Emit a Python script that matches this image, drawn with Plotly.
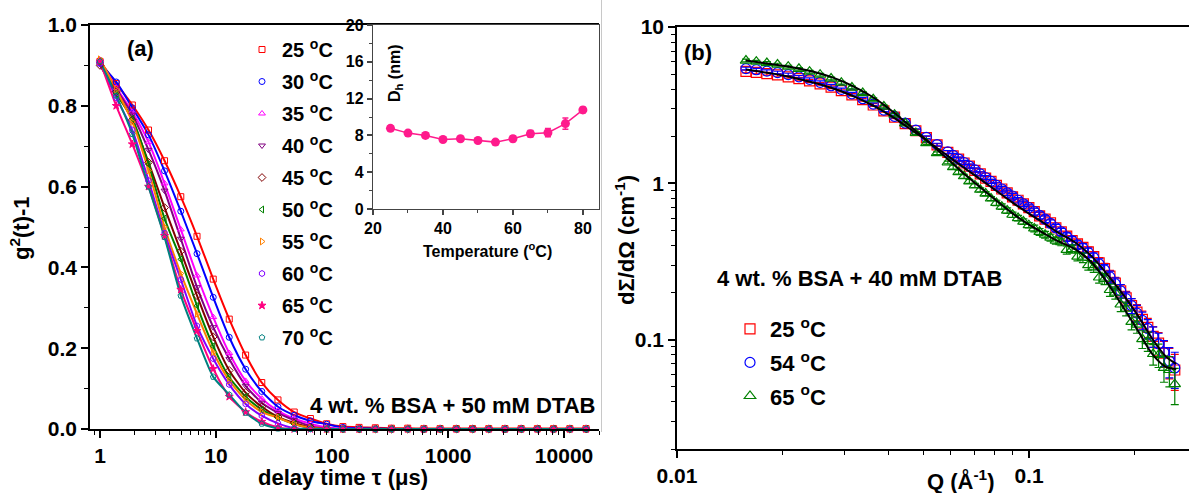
import math
import plotly.graph_objects as go

W, H = 1189, 493
def px(x): return x / W
def py(y): return 1 - y / H

FONT = "Liberation Sans, Arial, sans-serif"

# ---------------- Panel (a): DLS correlation functions ----------------
tau_us = [1.0, 1.38, 1.9, 2.62, 3.6, 4.97, 6.86, 9.46, 13.0, 18.0, 24.8, 34.2, 47.2, 65.1,
          89.8, 124, 171, 236, 325, 449, 619, 854, 1178, 1626, 2243, 3094, 4268, 5888,
          8123, 11206, 15460]

temps_a = ["25", "30", "35", "40", "45", "50", "55", "60", "65", "70"]

g_25 = [0.910, 0.855, 0.802, 0.740, 0.664, 0.575, 0.477, 0.371, 0.272, 0.183, 0.115, 0.072, 0.042, 0.026,
        0.013, 0.006, 0.004, 0.003, 0.002, 0.002, 0.001, 0.001, 0.001, 0.001, 0.001, 0.001, 0.001, 0.001,
        0.001, 0.001, 0.001]
g_30 = [0.905, 0.859, 0.795, 0.728, 0.639, 0.539, 0.434, 0.326, 0.227, 0.148, 0.093, 0.055, 0.034, 0.020,
        0.012, 0.004, 0.002, 0.001, 0.0, 0.0, 0.0, 0.0, 0.0, 0.0, 0.0, 0.0, 0.0, 0.0,
        0.0, 0.0, 0.0]
g_35 = [0.912, 0.845, 0.785, 0.710, 0.608, 0.494, 0.380, 0.277, 0.188, 0.119, 0.075, 0.045, 0.026, 0.013,
        0.004, 0.001, 0.0, 0.0, 0.0, 0.0, 0.0, 0.0, 0.0, 0.0, 0.0, 0.0, 0.0, 0.0,
        0.0, 0.0, 0.0]
g_40 = [0.905, 0.842, 0.778, 0.691, 0.590, 0.471, 0.351, 0.252, 0.173, 0.107, 0.065, 0.040, 0.022, 0.007,
        0.001, 0.0, 0.0, 0.0, 0.0, 0.0, 0.0, 0.0, 0.0, 0.0, 0.0, 0.0, 0.0, 0.0,
        0.0, 0.0, 0.0]
g_45 = [0.900, 0.835, 0.765, 0.660, 0.548, 0.440, 0.330, 0.228, 0.145, 0.090, 0.055, 0.030, 0.015, 0.004,
        0.0, 0.0, 0.0, 0.0, 0.0, 0.0, 0.0, 0.0, 0.0, 0.0, 0.0, 0.0, 0.0, 0.0,
        0.0, 0.0, 0.0]
g_50 = [0.910, 0.830, 0.768, 0.655, 0.521, 0.420, 0.305, 0.205, 0.128, 0.080, 0.048, 0.028, 0.012, 0.002,
        0.0, 0.0, 0.0, 0.0, 0.0, 0.0, 0.0, 0.0, 0.0, 0.0, 0.0, 0.0, 0.0, 0.0,
        0.0, 0.0, 0.0]
g_55 = [0.915, 0.840, 0.760, 0.640, 0.500, 0.385, 0.285, 0.190, 0.120, 0.072, 0.042, 0.028, 0.012, 0.003,
        0.0, 0.0, 0.0, 0.0, 0.0, 0.0, 0.0, 0.0, 0.0, 0.0, 0.0, 0.0, 0.0, 0.0,
        0.0, 0.0, 0.0]
g_60 = [0.905, 0.820, 0.740, 0.615, 0.485, 0.370, 0.255, 0.174, 0.110, 0.062, 0.033, 0.014, 0.002, 0.0,
        0.0, 0.0, 0.0, 0.0, 0.0, 0.0, 0.0, 0.0, 0.0, 0.0, 0.0, 0.0, 0.0, 0.0,
        0.0, 0.0, 0.0]
g_65 = [0.910, 0.800, 0.705, 0.600, 0.478, 0.345, 0.243, 0.149, 0.080, 0.042, 0.018, 0.004, 0.0, 0.0,
        0.0, 0.0, 0.0, 0.0, 0.0, 0.0, 0.0, 0.0, 0.0, 0.0, 0.0, 0.0, 0.0, 0.0,
        0.0, 0.0, 0.0]
g_70 = [0.910, 0.825, 0.730, 0.600, 0.475, 0.330, 0.224, 0.129, 0.085, 0.040, 0.013, 0.001, 0.0, 0.0,
        0.0, 0.0, 0.0, 0.0, 0.0, 0.0, 0.0, 0.0, 0.0, 0.0, 0.0, 0.0, 0.0, 0.0,
        0.0, 0.0, 0.0]

series_a = [g_25, g_30, g_35, g_40, g_45, g_50, g_55, g_60, g_65, g_70]
colors_a = ["#ff0000", "#0000ff", "#ff00ff", "#800080", "#800000",
            "#008000", "#ff8000", "#8000ff", "#ff0080", "#008080"]
symbols_a = ["square-open", "circle-open", "triangle-up-open", "triangle-down-open",
             "diamond-open", "triangle-left-open", "triangle-right-open",
             "hexagon-open", "star", "pentagon-open"]

# ---------------- Inset: hydrodynamic diameter ----------------
temp_inset = [25, 30, 35, 40, 45, 50, 55, 60, 65, 70, 75, 80]
dh_nm = [8.77, 8.25, 8.0, 7.56, 7.63, 7.45, 7.27, 7.63, 8.18, 8.29, 9.28, 10.77]
dh_err = [0.25, 0.25, 0.25, 0.25, 0.25, 0.25, 0.25, 0.3, 0.35, 0.45, 0.6, 0.3]

# ---------------- Panel (b): SANS ----------------
q_inv_A = [0.0157, 0.0168, 0.0180, 0.0193, 0.0207, 0.0222, 0.0238, 0.0255, 0.0274, 0.0293,
           0.0314, 0.0337, 0.0361, 0.0387, 0.0415, 0.0445, 0.0477, 0.0511, 0.0548, 0.0588,
           0.0609, 0.0631, 0.0654, 0.0677, 0.0702, 0.0727, 0.0753, 0.0780, 0.0808, 0.0837,
           0.0867, 0.0898, 0.0931, 0.0964, 0.0999, 0.1035, 0.1072, 0.1111, 0.1151, 0.1192,
           0.1235, 0.1280, 0.1326, 0.1373, 0.1423, 0.1474, 0.1527, 0.1582, 0.1639, 0.1698,
           0.1759, 0.1822, 0.1888, 0.1956, 0.2026, 0.2099, 0.2175, 0.2253, 0.2334, 0.2418,
           0.2505, 0.2595]
i_25 = [5.20, 5.12, 5.03, 4.94, 4.80, 4.67, 4.52, 4.33, 4.12, 3.92,
        3.68, 3.43, 3.17, 2.91, 2.65, 2.41, 2.17, 1.96, 1.76, 1.58,
        1.50, 1.43, 1.35, 1.29, 1.21, 1.15, 1.08, 1.03, 0.97, 0.92,
        0.87, 0.82, 0.78, 0.74, 0.70, 0.66, 0.62, 0.59, 0.56, 0.52,
        0.49, 0.46, 0.43, 0.41, 0.39, 0.365, 0.34, 0.31, 0.285, 0.255,
        0.23, 0.205, 0.185, 0.165, 0.15, 0.135, 0.12, 0.105, 0.095, 0.082,
        0.072, 0.064]
i_54 = [5.42, 5.33, 5.22, 5.11, 4.96, 4.80, 4.63, 4.43, 4.21, 3.99,
        3.74, 3.48, 3.21, 2.94, 2.68, 2.43, 2.19, 1.97, 1.77, 1.59,
        1.51, 1.43, 1.36, 1.29, 1.22, 1.15, 1.09, 1.03, 0.97, 0.92,
        0.87, 0.83, 0.78, 0.74, 0.70, 0.66, 0.625, 0.59, 0.555, 0.52,
        0.49, 0.455, 0.43, 0.405, 0.385, 0.36, 0.335, 0.305, 0.28, 0.252,
        0.228, 0.205, 0.183, 0.165, 0.148, 0.133, 0.118, 0.105, 0.094, 0.083,
        0.073, 0.066]
i_65 = [6.10, 6.00, 5.88, 5.75, 5.58, 5.40, 5.18, 4.95, 4.68, 4.40,
        4.10, 3.78, 3.45, 3.10, 2.75, 2.42, 2.10, 1.81, 1.56, 1.36,
        1.27, 1.18, 1.11, 1.03, 0.97, 0.91, 0.86, 0.80, 0.75, 0.71,
        0.67, 0.63, 0.60, 0.57, 0.54, 0.515, 0.49, 0.47, 0.45, 0.43,
        0.42, 0.375, 0.38, 0.34, 0.335, 0.30, 0.29, 0.25, 0.245, 0.208,
        0.20, 0.168, 0.158, 0.13, 0.125, 0.101, 0.098, 0.081, 0.08, 0.066,
        0.064, 0.052]
rel_err = [0.02, 0.02, 0.02, 0.02, 0.02, 0.02, 0.02, 0.02, 0.02, 0.02,
           0.02, 0.02, 0.02, 0.02, 0.02, 0.02, 0.02, 0.02, 0.02, 0.02,
           0.03, 0.03, 0.03, 0.03, 0.03, 0.03, 0.03, 0.03, 0.04, 0.04,
           0.04, 0.04, 0.04, 0.04, 0.04, 0.05, 0.05, 0.05, 0.05, 0.05,
           0.05, 0.06, 0.06, 0.06, 0.07, 0.07, 0.07, 0.08, 0.08, 0.09,
           0.09, 0.10, 0.10, 0.11, 0.12, 0.13, 0.14, 0.15, 0.17, 0.19,
           0.22, 0.26]

q_fit = [0.0157, 0.018, 0.02, 0.0225, 0.025, 0.0275, 0.03, 0.0325, 0.035, 0.0375, 0.04, 0.0425,
         0.045, 0.05, 0.055, 0.06, 0.066, 0.072, 0.08, 0.09, 0.1, 0.11, 0.12, 0.135, 0.15, 0.165,
         0.185, 0.205, 0.225, 0.245, 0.262]
fit_25 = [5.35, 5.1, 4.9, 4.62, 4.35, 4.07, 3.8, 3.52, 3.25, 3.0, 2.75, 2.52,
          2.3, 1.95, 1.67, 1.45, 1.24, 1.08, 0.91, 0.75, 0.64, 0.56, 0.49, 0.42, 0.345, 0.27,
          0.195, 0.14, 0.1, 0.078, 0.07]
fit_65 = [6.1, 5.85, 5.65, 5.38, 5.1, 4.78, 4.42, 4.05, 3.7, 3.35, 3.0, 2.7,
          2.42, 1.98, 1.63, 1.37, 1.13, 0.96, 0.79, 0.64, 0.545, 0.48, 0.43, 0.38, 0.315, 0.24,
          0.162, 0.112, 0.08, 0.067, 0.065]

temps_b = ["25", "54", "65"]
series_b = [i_25, i_54, i_65]
colors_b = ["#ff0000", "#0000ff", "#008000"]
symbols_b = ["square-open", "circle-open", "triangle-up-open"]

fig = go.Figure()

# Panel (a) lines (fits) and markers
for g, c in zip(series_a, colors_a):
    fig.add_trace(go.Scatter(x=tau_us, y=g, mode="lines", line=dict(color=c, width=2, shape="spline", smoothing=0.6),
                             showlegend=False, hoverinfo="skip", xaxis="x", yaxis="y"))
for t, g, c, s in zip(temps_a, series_a, colors_a, symbols_a):
    fig.add_trace(go.Scatter(x=tau_us, y=g, mode="markers", name=f"{t} <sup>o</sup>C",
                             marker=dict(symbol=s, size=6, color=c, line=dict(color=c, width=1)),
                             cliponaxis=False, legend="legend", legendgroup=t,
                             xaxis="x", yaxis="y"))

# Inset
fig.add_trace(go.Scatter(x=temp_inset, y=dh_nm, mode="lines+markers",
                         line=dict(color="#ff1a8c", width=1.5),
                         marker=dict(symbol="circle", size=9, color="#ff1a8c"),
                         error_y=dict(type="data", array=dh_err, color="#ff1a8c", thickness=1.5, width=3),
                         showlegend=False, xaxis="x2", yaxis="y2"))

# Panel (b) data
for t, I, c, s in zip(temps_b, series_b, colors_b, symbols_b):
    err = [v * r for v, r in zip(I, rel_err)]
    fig.add_trace(go.Scatter(x=q_inv_A, y=I, mode="markers", name=f"{t} <sup>o</sup>C",
                             marker=dict(symbol=s, size=10, color=c, line=dict(color=c, width=1.2)),
                             error_y=dict(type="data", array=err, color=c, thickness=1.2, width=4),
                             legend="legend2", legendgroup="b" + t,
                             xaxis="x3", yaxis="y3"))
for f in (fit_25, fit_65):
    fig.add_trace(go.Scatter(x=q_fit, y=f, mode="lines", line=dict(color="black", width=2, shape="spline"),
                             showlegend=False, xaxis="x3", yaxis="y3"))

tickfont_big = dict(family=FONT, size=21, color="black", weight="bold")
tickfont_small = dict(family=FONT, size=16, color="black", weight="bold")

dec_minor_a = [m * 10 ** k for k in range(-1, 5) for m in range(2, 10)] + [0.9]
dec_minor_a = [v for v in dec_minor_a if 0.82 <= v <= 20000]
minor_b_x = [m * 10 ** k for k in (-2, -1) for m in range(2, 10)]
minor_b_x = [v for v in minor_b_x if v <= 0.285]
minor_b_y = [m * 10 ** k for k in (-2, -1, 0) for m in range(2, 10)]

axis_common = dict(showgrid=False, zeroline=False, showline=True, linecolor="black", linewidth=1.5,
                   ticks="outside", tickcolor="black", tickwidth=1.5, automargin=False)

fig.update_layout(
    width=W, height=H, margin=dict(l=0, r=0, t=0, b=0, autoexpand=False),
    paper_bgcolor="white", plot_bgcolor="rgba(0,0,0,0)",
    font=dict(family=FONT, color="black"),
    xaxis=dict(domain=[px(90), px(599)], type="log", range=[math.log10(0.82), math.log10(20000)],
               tickmode="array", tickvals=[1, 10, 100, 1000, 10000],
               ticktext=["1", "10", "100", "1000", "10000"], ticklen=7, mirror=True,
               tickfont=tickfont_big, anchor="y",
               minor=dict(tickmode="array", tickvals=dec_minor_a, ticks="outside", ticklen=4,
                          tickcolor="black", tickwidth=1.2),
               **axis_common),
    yaxis=dict(domain=[py(429), py(25)], range=[0, 1.0], dtick=0.2, tickformat=".1f", ticklen=7,
               tickfont=tickfont_big, anchor="x",
               minor=dict(dtick=0.1, ticks="outside", ticklen=4, tickcolor="black", tickwidth=1.2),
               **axis_common),
    xaxis2=dict(domain=[px(373), px(599)], range=[20, 84.6], dtick=20, ticklen=5, mirror=True,
                tickfont=tickfont_small, anchor="y2",
                minor=dict(dtick=10, ticks="outside", ticklen=3, tickcolor="#444", tickwidth=1),
                **{**axis_common, "linecolor": "#444", "tickcolor": "#444", "linewidth": 1.3}),
    yaxis2=dict(domain=[py(209), py(25)], range=[0, 20], dtick=4, ticklen=5, mirror=True,
                tickfont=tickfont_small, anchor="x2",
                minor=dict(dtick=2, ticks="outside", ticklen=3, tickcolor="#444", tickwidth=1),
                **{**axis_common, "linecolor": "#444", "tickcolor": "#444", "linewidth": 1.3}),
    xaxis3=dict(domain=[px(677), 1.0], type="log", range=[-2, -2 + (1189 - 677) / 352],
                tickmode="array", tickvals=[0.01, 0.1], ticktext=["0.01", "0.1"], ticklen=7, mirror=True,
                tickfont=tickfont_big, anchor="y3",
                minor=dict(tickmode="array", tickvals=minor_b_x, ticks="outside", ticklen=4,
                           tickcolor="black", tickwidth=1.2),
                **axis_common),
    yaxis3=dict(domain=[py(449), py(27)], type="log", range=[math.log10(0.02), 1],
                tickmode="array", tickvals=[0.1, 1, 10], ticktext=["0.1", "1", "10"], ticklen=7,
                tickfont=tickfont_big, anchor="x3",
                minor=dict(tickmode="array", tickvals=minor_b_y, ticks="outside", ticklen=4,
                           tickcolor="black", tickwidth=1.2),
                **axis_common),
    legend=dict(x=px(242), y=py(30), xanchor="left", yanchor="top", bgcolor="rgba(0,0,0,0)",
                font=dict(family=FONT, size=20, color="black", weight="bold"),
                itemsizing="trace", tracegroupgap=3, traceorder="grouped", borderwidth=0),
    legend2=dict(x=px(730), y=py(308), xanchor="left", yanchor="top", bgcolor="rgba(0,0,0,0)",
                 font=dict(family=FONT, size=22, color="black", weight="bold"),
                 itemsizing="trace", tracegroupgap=2, traceorder="grouped", borderwidth=0),
    shapes=[dict(type="line", xref="paper", yref="paper", x0=px(601.5), x1=px(601.5), y0=py(432), y1=1,
                 line=dict(color="#c8c8c8", width=1))],
)

def ann(text, x, y, size=22, angle=0, xanchor="center"):
    fig.add_annotation(text=text, x=px(x), y=py(y), xref="paper", yref="paper", showarrow=False,
                       textangle=angle, xanchor=xanchor, yanchor="middle",
                       font=dict(family=FONT, size=size, color="black", weight="bold"))

ann("(a)", 140, 48)
ann("(b)", 698, 52)
ann("4 wt. % BSA + 50 mM DTAB", 597, 405, xanchor="right")
ann("4 wt. % BSA + 40 mM DTAB", 859, 278)
ann("g<sup>2</sup>(t)-1", 20, 228, angle=-90)
ann("delay time τ (μs)", 343, 477)
ann("D<sub>h</sub> (nm)", 396, 73, size=16, angle=-90)
ann("Temperature (<sup>o</sup>C)", 487, 250, size=16)
ann("dΣ/dΩ (cm<sup>-1</sup>)", 625, 240, angle=-90)
ann("Q (Å<sup>-1</sup>)", 960, 480)

fig.write_html("out.html")
